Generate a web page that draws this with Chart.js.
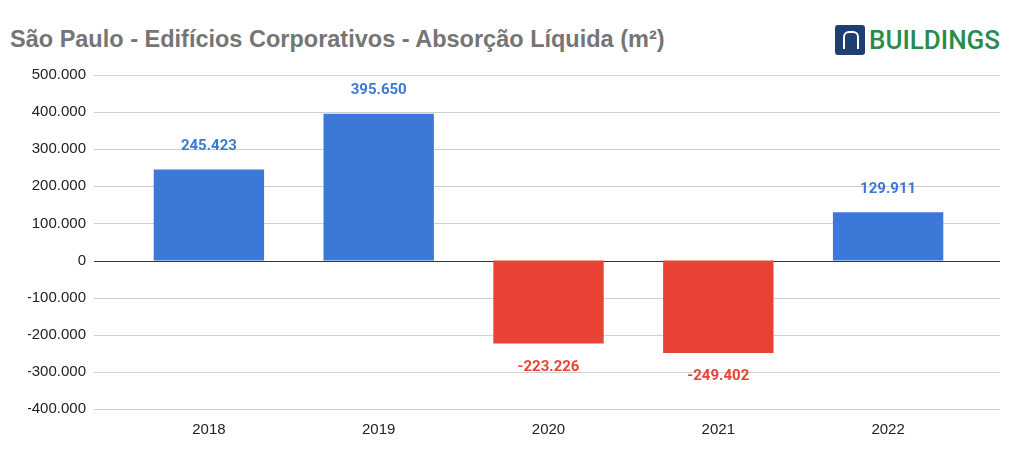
<!DOCTYPE html>
<html><head><meta charset="utf-8">
<script src="https://cdn.jsdelivr.net/npm/chart.js@4"></script>
<style>
body{margin:0;background:#fff;font-family:Roboto,Arial,sans-serif;}
#wrap{position:relative;width:1024px;height:457px;}
#title{position:absolute;left:10px;top:26px;font-size:23.5px;font-weight:bold;color:#757575;font-family:"Liberation Sans",Arial,sans-serif;}
#logo{position:absolute;left:835px;top:25px;display:flex;align-items:center;}
#logo .box{width:30px;height:30px;background:#1f3f73;border-radius:3px;position:relative;}
#logo .box div{position:absolute;left:8px;top:6px;width:12px;height:16px;border:2px solid #fff;border-bottom:none;border-radius:6px 6px 0 0;}
#logo span{font-size:26px;color:#2a8b4c;font-weight:500;margin-left:4px;font-family:Roboto,sans-serif;}
canvas{position:absolute;left:0;top:0;}
</style></head><body>
<div id="wrap">
<div id="title">São Paulo - Edifícios Corporativos - Absorção Líquida (m²)</div>
<div id="logo"><div class="box"><div></div></div><span>BUILDINGS</span></div>
<canvas id="c" width="1024" height="457"></canvas>
</div>
<script>
const years = ['2018', '2019', '2020', '2021', '2022'];
const absorption = [245423, 395650, -223226, -249402, 129911];
const fmt = v => v.toLocaleString('de-DE');
const colors = absorption.map(v => v < 0 ? '#ea4335' : '#3c78d8');
const axisFont = { size: 15, family: '"Liberation Sans", Arial, sans-serif' };

const labelPlugin = {
    id: 'labels',
    afterDatasetsDraw(chart) {
        const ctx = chart.ctx;
        const meta = chart.getDatasetMeta(0);
        ctx.save();
        ctx.font = 'bold 15px Roboto, Arial, sans-serif';
        ctx.textAlign = 'center';
        meta.data.forEach((bar, i) => {
            const v = absorption[i];
            ctx.fillStyle = colors[i];
            if (v >= 0) { ctx.textBaseline = 'bottom'; ctx.fillText(fmt(v), bar.x, bar.y - 16); }
            else { ctx.textBaseline = 'top'; ctx.fillText(fmt(v), bar.x, bar.y + 16); }
        });
        ctx.restore();
    }
};

// grid in the reference runs from x=94 to x=1000, past the category area
const gridPlugin = {
    id: 'fullGrid',
    beforeDatasetsDraw(chart) {
        const { ctx, scales } = chart;
        ctx.save();
        ctx.lineWidth = 1;
        scales.y.ticks.forEach(t => {
            const y = Math.round(scales.y.getPixelForValue(t.value)) + 0.5;
            ctx.strokeStyle = t.value === 0 ? '#333' : '#d0d0d0';
            ctx.beginPath();
            ctx.moveTo(94, y);
            ctx.lineTo(1000, y);
            ctx.stroke();
        });
        ctx.restore();
    }
};

new Chart(document.getElementById('c'), {
    type: 'bar',
    data: { labels: years, datasets: [{ data: absorption, backgroundColor: colors, categoryPercentage: 0.65, barPercentage: 1 }] },
    options: {
        responsive: false, animation: false,
        layout: { padding: { top: 75, right: 51, left: 28, bottom: 14 } },
        plugins: { legend: { display: false }, tooltip: { enabled: false } },
        scales: {
            x: { grid: { display: false }, border: { display: false },
                 ticks: { color: '#222', padding: 4, font: axisFont } },
            y: { min: -400000, max: 500000, border: { display: false },
                 grid: { display: false },
                 afterFit: s => { s.width = 96; },
                 ticks: { stepSize: 100000, color: '#222', padding: 30, callback: v => fmt(v), font: axisFont } }
        }
    },
    plugins: [gridPlugin, labelPlugin]
});
</script>
</body></html>
